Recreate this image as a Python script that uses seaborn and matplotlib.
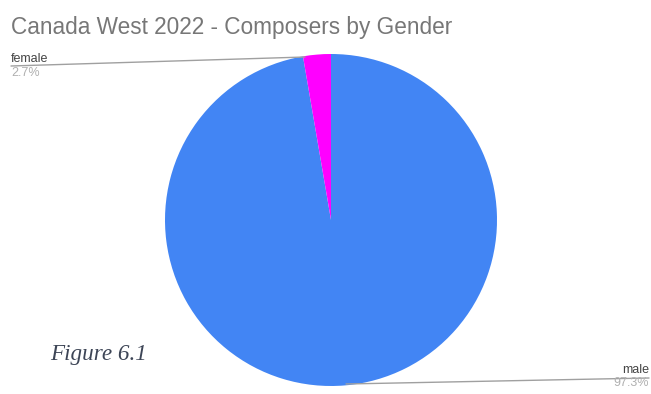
import matplotlib
matplotlib.use("Agg")
import matplotlib.pyplot as plt
import seaborn as sns
from matplotlib.lines import Line2D

categories = ["male", "female"]
values = [97.3, 2.7]
colors = ["#4285F4", "#FF00FF"]
title = "Canada West 2022 - Composers by Gender"
caption = "Figure 6.1"

sns.set_theme(style="white")
plt.rcParams["font.family"] = ["Liberation Sans", "DejaVu Sans"]

W, H = 651, 394
fig = plt.figure(figsize=(W / 100, H / 100), dpi=100)
fig.patch.set_facecolor("white")

cx, cy, r = 331, 220, 166
ax = fig.add_axes([(cx - r) / W, (H - cy - r) / H, 2 * r / W, 2 * r / H])
ax.pie(values, colors=colors, startangle=90, counterclock=False,
       wedgeprops=dict(linewidth=0))
ax.set_xlim(-1, 1)
ax.set_ylim(-1, 1)
ax.set_aspect("equal")
ax.axis("off")

def px(x, y):
    return x / W, 1 - y / H

fig.text(*px(11, 34), title, fontsize=16.3, color="#777777", ha="left", va="baseline")

# labels
fig.text(*px(11, 62), categories[1], fontsize=9, color="#444444", ha="left", va="baseline")
fig.text(*px(11, 76), f"{values[1]}%", fontsize=9, color="#b0b0b0", ha="left", va="baseline")
fig.text(*px(649, 373), categories[0], fontsize=9, color="#444444", ha="right", va="baseline")
fig.text(*px(649, 386), f"{values[0]}%", fontsize=9, color="#b0b0b0", ha="right", va="baseline")

for (x0, y0), (x1, y1) in [((11, 66), (305, 57)), ((346, 384), (649, 378))]:
    a, b = px(x0, y0)
    c, d = px(x1, y1)
    fig.add_artist(Line2D([a, c], [b, d], transform=fig.transFigure,
                          color="#a0a0a0", linewidth=1.0))

fig.text(*px(50, 360), caption, fontsize=16.7, fontstyle="italic",
         family=["Liberation Serif", "DejaVu Serif"], color="#3d4556",
         ha="left", va="baseline")

fig.savefig("out.png", dpi=100, facecolor="white")
